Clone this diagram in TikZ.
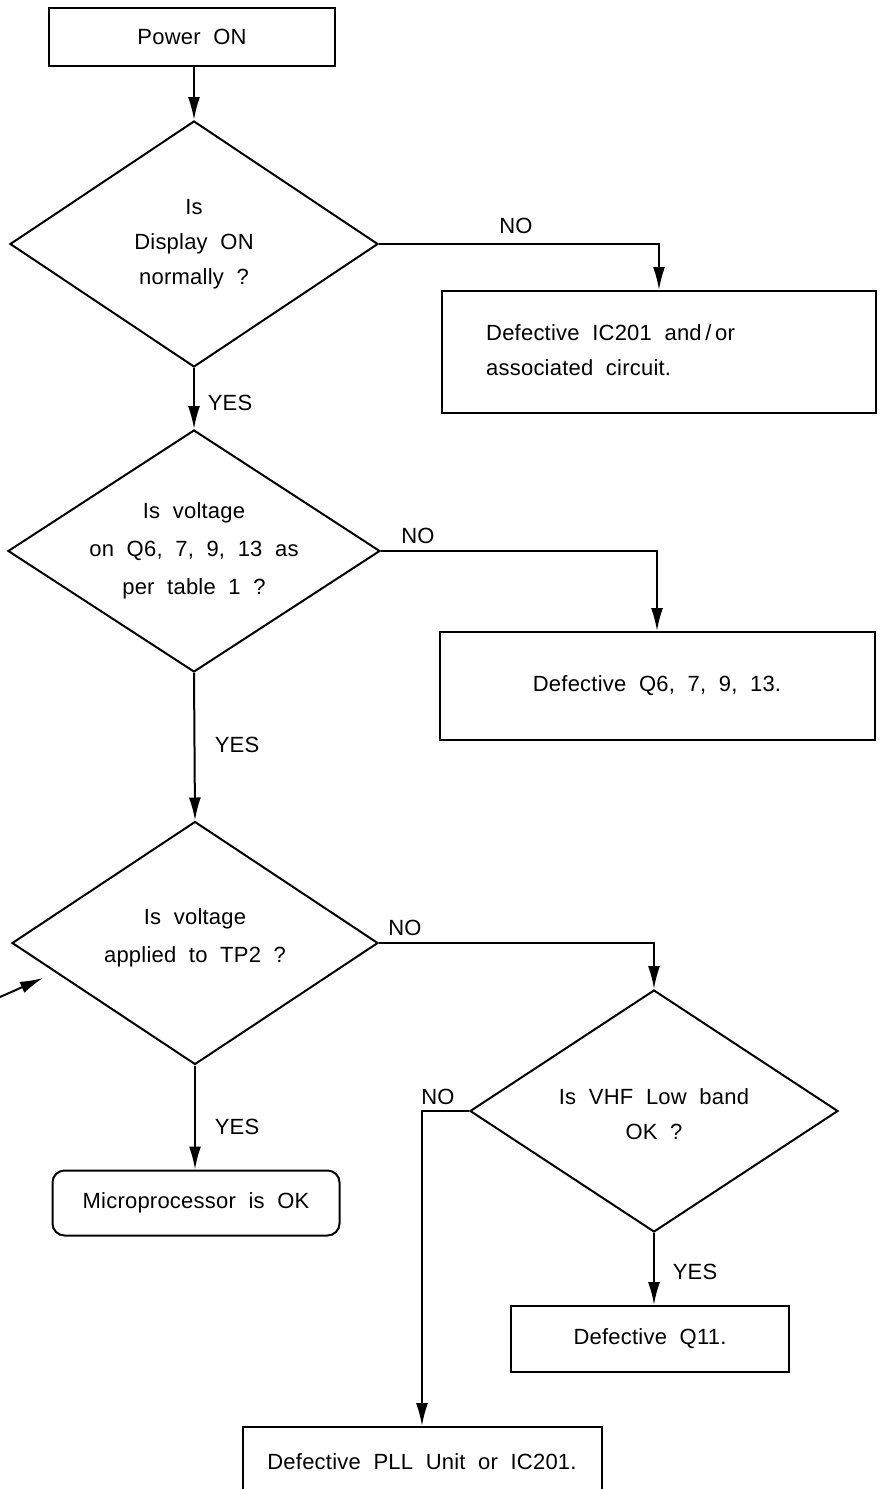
\documentclass[tikz,border=0pt]{standalone}
\usepackage{fontspec}
\setmainfont{Liberation Sans}[LetterSpace=1,WordSpace=2]
\usetikzlibrary{shapes.geometric,arrows.meta}
\begin{document}
\begin{tikzpicture}[x=1pt,y=-1pt,
  every node/.style={font=\fontsize{22}{35}\selectfont},
  box/.style={draw,line width=2pt,rectangle,inner sep=0pt,align=center},
  dia/.style={draw,line width=2pt,diamond,inner sep=0pt},
  lbl/.style={inner sep=0pt,align=center},
  arr/.style={line width=2pt,-{Latex[length=23pt,width=12pt]}}]
\clip (0,0) rectangle (880,1489);
\useasboundingbox (0,0) rectangle (880,1489);
\node[box,minimum width=286pt,minimum height=58pt] (power) at (192,37) {Power ON};
\node[dia,minimum width=368pt,minimum height=246pt] (d1) at (194,244) {};
\node[lbl] (d1t) at (d1.center) {Is\\Display ON\\normally ?};
\node[box,minimum width=434pt,minimum height=122pt] (b1) at (659,352) {};
\node[lbl,anchor=west,align=left] (b1t) at (486,350) {Defective IC201 and\,/\,or\\associated circuit.};
\node[dia,minimum width=372pt,minimum height=242pt] (d2) at (194,551) {};
\node[lbl,font=\fontsize{22}{38}\selectfont] (d2t) at (d2.center) {Is voltage\\on Q6, 7, 9, 13 as\\per table 1 ?};
\node[box,minimum width=435pt,minimum height=108pt] (b2) at (657,686) {Defective Q6, 7, 9, 13.};
\node[dia,minimum width=366pt,minimum height=243pt] (d3) at (195,943) {};
\node[lbl,font=\fontsize{22}{38}\selectfont] (d3t) at ([yshift=5pt]d3.center) {Is voltage\\applied to TP2 ?};
\node[box,rounded corners=12pt,minimum width=287pt,minimum height=65pt] (micro) at (196,1203) {Microprocessor is OK};
\node[dia,minimum width=368pt,minimum height=242pt] (d4) at (654,1111) {};
\node[lbl] (d4t) at ([yshift=-3pt]d4.center) {Is VHF Low band\\OK ?};
\node[box,minimum width=278pt,minimum height=66pt] (q11) at (650,1339) {Defective Q11.};
\node[box,minimum width=359pt,minimum height=70pt] (pll) at (422,1462) {Defective PLL Unit or IC201.};
% connectors
\draw[arr] (d1.north |- power.south) -- (d1.north);
\draw[arr] (d1.east) -- (b1.north |- d1.east) -- (b1.north);
\draw[arr] (d1.south) -- (d2.north);
\draw[arr] (d2.east) -- (b2.north |- d2.east) -- (b2.north);
\draw[arr] (d2.south) -- (d3.north);
\draw[arr] (d3.east) -- (d4.north |- d3.east) -- (d4.north);
\draw[arr] (d3.south) -- (d3.south |- micro.north);
\draw[arr] (d4.west) -- (pll.north |- d4.west) -- (pll.north);
\draw[arr] (d4.south) -- (d4.south |- q11.north);
\coordinate (ext) at (0,997);
\coordinate (extend) at (43,978);
\draw[arr] (ext) -- (extend);
% labels
\node[lbl] (n1) at (516,226) {NO};
\node[lbl] (y1) at (230,403) {YES};
\node[lbl] (n2) at (418,536) {NO};
\node[lbl] (y2) at (237,745) {YES};
\node[lbl] (n3) at (405,928) {NO};
\node[lbl] (y3) at (237,1127) {YES};
\node[lbl] (n4) at (438,1097) {NO};
\node[lbl] (y4) at (695,1272) {YES};
\end{tikzpicture}
\end{document}
